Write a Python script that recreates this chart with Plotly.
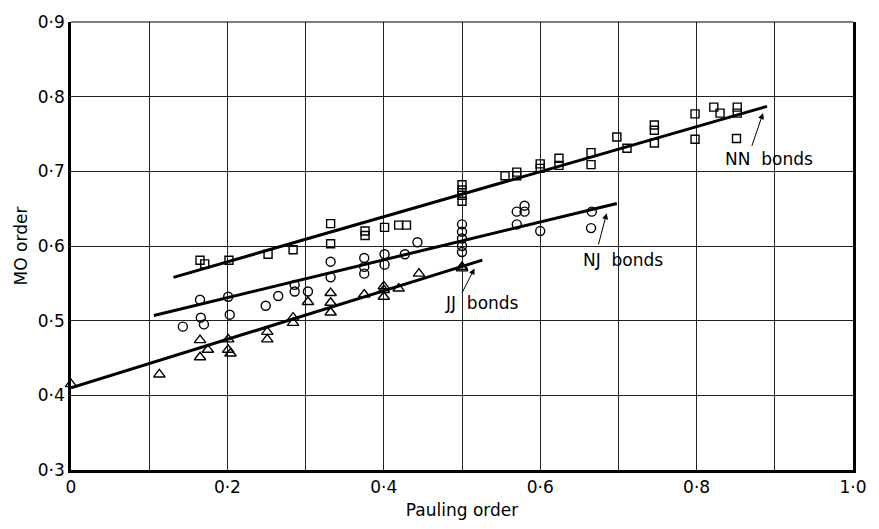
import plotly.graph_objects as go

# --- data ---
nn_x = [0.165, 0.171, 0.202, 0.252, 0.284, 0.332, 0.332, 0.376, 0.376, 0.401, 0.419, 0.429,
        0.5, 0.5, 0.5, 0.5, 0.555, 0.570, 0.570, 0.600, 0.600, 0.624, 0.624, 0.665, 0.665,
        0.698, 0.711, 0.746, 0.746, 0.746, 0.798, 0.798, 0.822, 0.830, 0.852, 0.852, 0.851]
nn_y = [0.581, 0.576, 0.581, 0.589, 0.595, 0.630, 0.603, 0.620, 0.614, 0.625, 0.628, 0.628,
        0.660, 0.668, 0.675, 0.682, 0.694, 0.699, 0.694, 0.710, 0.704, 0.7175, 0.708, 0.725, 0.709,
        0.746, 0.731, 0.762, 0.755, 0.738, 0.777, 0.743, 0.786, 0.778, 0.786, 0.778, 0.744]

nj_x = [0.143, 0.165, 0.166, 0.170, 0.201, 0.203, 0.249, 0.265, 0.286, 0.286, 0.303, 0.332,
        0.332, 0.375, 0.375, 0.375, 0.401, 0.401, 0.427, 0.443, 0.5, 0.5, 0.5, 0.5, 0.5,
        0.570, 0.580, 0.580, 0.570, 0.600, 0.666, 0.665]
nj_y = [0.492, 0.528, 0.504, 0.495, 0.532, 0.508, 0.520, 0.533, 0.548, 0.539, 0.539, 0.579,
        0.558, 0.584, 0.572, 0.563, 0.589, 0.575, 0.589, 0.605, 0.629, 0.619, 0.610, 0.600, 0.592,
        0.646, 0.654, 0.646, 0.629, 0.620, 0.646, 0.624]

jj_x = [0.0, 0.113, 0.165, 0.175, 0.165, 0.201, 0.201, 0.204, 0.251, 0.251, 0.284, 0.284,
        0.303, 0.332, 0.332, 0.332, 0.375, 0.400, 0.400, 0.400, 0.419, 0.445, 0.5, 0.5]
jj_y = [0.415, 0.428, 0.474, 0.461, 0.451, 0.475, 0.461, 0.456, 0.485, 0.475, 0.504, 0.497,
        0.525, 0.537, 0.524, 0.511, 0.535, 0.546, 0.541, 0.532, 0.543, 0.563, 0.572, 0.570]

nn_fit_x = [0.131, 0.890]
nn_fit_y = [0.558, 0.787]
nj_fit_x = [0.106, 0.698]
nj_fit_y = [0.507, 0.657]
jj_fit_x = [0.0, 0.526]
jj_fit_y = [0.410, 0.581]

x_ticks = [0.0, 0.1, 0.2, 0.3, 0.4, 0.5, 0.6, 0.7, 0.8, 0.9, 1.0]
x_ticktext = ["0", "", "0·2", "", "0·4", "", "0·6", "", "0·8", "", "1·0"]
y_ticks = [0.3, 0.4, 0.5, 0.6, 0.7, 0.8, 0.9]
y_ticktext = ["0·3", "0·4", "0·5", "0·6", "0·7", "0·8", "0·9"]

labels = ["NN  bonds", "NJ  bonds", "JJ  bonds"]
label_x = [0.892, 0.706, 0.526]
label_y = [0.717, 0.581, 0.524]
arrow_head_x = [0.885, 0.685, 0.516]
arrow_head_y = [0.778, 0.644, 0.570]
arrow_tail_x = [0.870, 0.674, 0.499]
arrow_tail_y = [0.732, 0.600, 0.535]

FONT = "DejaVu Sans"
fig = go.Figure()

for fx, fy in [(nn_fit_x, nn_fit_y), (nj_fit_x, nj_fit_y), (jj_fit_x, jj_fit_y)]:
    fig.add_trace(go.Scatter(x=fx, y=fy, mode="lines",
                             line=dict(color="black", width=3), showlegend=False,
                             cliponaxis=False))

marker_line = dict(color="black", width=1.4)
fig.add_trace(go.Scatter(x=nn_x, y=nn_y, mode="markers", showlegend=False, cliponaxis=False,
                         marker=dict(symbol="square-open", size=8, color="black", line=marker_line)))
fig.add_trace(go.Scatter(x=nj_x, y=nj_y, mode="markers", showlegend=False, cliponaxis=False,
                         marker=dict(symbol="circle-open", size=9, color="black", line=marker_line)))
fig.add_trace(go.Scatter(x=jj_x, y=jj_y, mode="markers", showlegend=False, cliponaxis=False,
                         marker=dict(symbol="triangle-up-open", size=10, color="black", line=marker_line)))

for t, lx, ly in zip(labels, label_x, label_y):
    fig.add_annotation(x=lx, y=ly, text=t, showarrow=False, xref="x", yref="y",
                       font=dict(family=FONT, size=17, color="black"))
for hx, hy, tx, ty in zip(arrow_head_x, arrow_head_y, arrow_tail_x, arrow_tail_y):
    fig.add_annotation(x=hx, y=hy, ax=tx, ay=ty, xref="x", yref="y", axref="x", ayref="y",
                       text="", showarrow=True, arrowhead=2, arrowsize=1.2, arrowwidth=1,
                       arrowcolor="black")

# frame: thin top, thick others
fig.add_shape(type="line", xref="paper", yref="paper", x0=0, x1=1, y0=1, y1=1,
              line=dict(color="black", width=1.2))

fig.update_xaxes(range=[0, 1.0], tickvals=x_ticks, ticktext=x_ticktext,
                 showgrid=True, gridcolor="#222", gridwidth=1,
                 showline=True, linecolor="black", linewidth=2.5, mirror=False,
                 zeroline=False, ticks="",
                 tickfont=dict(family=FONT, size=17, color="black"),
                 title=dict(text="Pauling order", standoff=8,
                            font=dict(family=FONT, size=17, color="black")))
fig.update_yaxes(range=[0.3, 0.9], tickvals=y_ticks, ticktext=y_ticktext,
                 showgrid=True, gridcolor="#222", gridwidth=1,
                 showline=True, linecolor="black", linewidth=2.5, mirror=True,
                 zeroline=False, ticks="",
                 tickfont=dict(family=FONT, size=17, color="black"),
                 title=dict(text="MO order", standoff=6,
                            font=dict(family=FONT, size=17, color="black")))

fig.update_layout(width=879, height=529, margin=dict(l=71, r=18, t=19, b=54),
                  plot_bgcolor="white", paper_bgcolor="white",
                  font=dict(family=FONT, color="black"))

fig.write_html("out.html")
